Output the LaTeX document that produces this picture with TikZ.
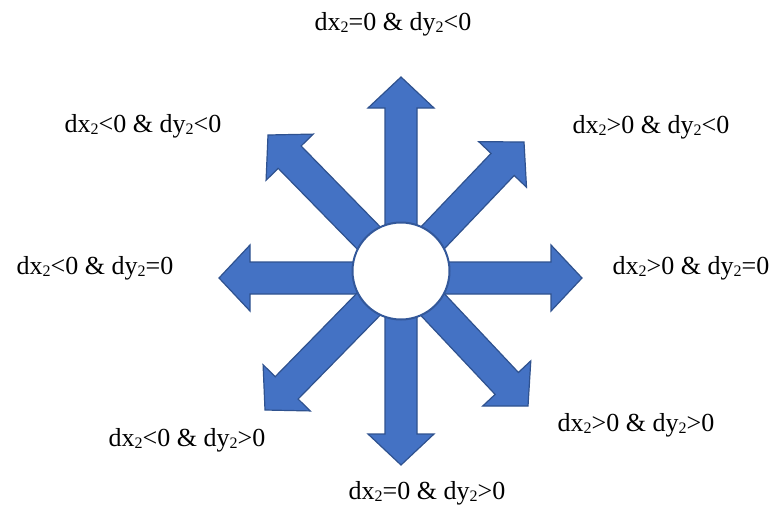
\documentclass[tikz,border=0pt]{standalone}
\usepackage{fontspec}
\setmainfont{Liberation Serif}
\usetikzlibrary{calc}
\definecolor{arrowfill}{RGB}{68,114,196}
\definecolor{arrowline}{RGB}{47,82,143}
\newcommand\subtwo{\raisebox{-2.5pt}{\fontsize{16}{16}\selectfont 2}}
\newcommand\blockarrow[3]{%
  \coordinate (#1base) at ($(#3)!31pt!(#2)$);
  \path[blockstyle]
    ($(#2)!16pt!90:(#3)$) --
    ($(#1base)!16pt!-90:(#2)$) --
    ($(#1base)!33pt!-90:(#2)$) --
    (#3) --
    ($(#1base)!33pt!90:(#2)$) --
    ($(#1base)!16pt!90:(#2)$) --
    ($(#2)!16pt!-90:(#3)$) -- cycle;
}
\tikzset{
  blockstyle/.style={fill=arrowfill, draw=arrowline, line width=1.2pt, line join=miter},
  hub/.style={circle, fill=white, draw=arrowline!80!arrowfill, line width=2pt, minimum size=97pt, inner sep=0pt},
  lbl/.style={font=\fontsize{26}{30}\selectfont, inner sep=0pt, anchor=center}
}
\begin{document}
\begin{tikzpicture}[x=1pt,y=-1pt]
\useasboundingbox (0,0) rectangle (778,512);
\coordinate (c0) at (401,271);
\coordinate (ch) at (401,278);
\coordinate (tN) at (401,77);
\coordinate (tS) at (401,465);
\coordinate (tW) at (219,278);
\coordinate (tE) at (582,278);
\coordinate (tNW) at (268,135);
\coordinate (tNE) at (524,142);
\coordinate (tSW) at (265,410);
\coordinate (tSE) at (528,406);
\blockarrow{aN}{c0}{tN}
\blockarrow{aS}{c0}{tS}
\blockarrow{aW}{ch}{tW}
\blockarrow{aE}{ch}{tE}
\blockarrow{aNW}{c0}{tNW}
\blockarrow{aNE}{c0}{tNE}
\blockarrow{aSW}{c0}{tSW}
\blockarrow{aSE}{c0}{tSE}
\node[hub] (hub) at (c0) {};
\node[lbl] (lN) at (393,24) {dx\subtwo=0 \& dy\subtwo<0};
\node[lbl] (lNW) at (143,126) {dx\subtwo<0 \& dy\subtwo<0};
\node[lbl] (lNE) at (651,127) {dx\subtwo>0 \& dy\subtwo<0};
\node[lbl] (lW) at (95,268) {dx\subtwo<0 \& dy\subtwo=0};
\node[lbl] (lE) at (691,268) {dx\subtwo>0 \& dy\subtwo=0};
\node[lbl] (lSW) at (187,440) {dx\subtwo<0 \& dy\subtwo>0};
\node[lbl] (lSE) at (636,425) {dx\subtwo>0 \& dy\subtwo>0};
\node[lbl] (lS) at (427,493) {dx\subtwo=0 \& dy\subtwo>0};
\end{tikzpicture}
\end{document}
